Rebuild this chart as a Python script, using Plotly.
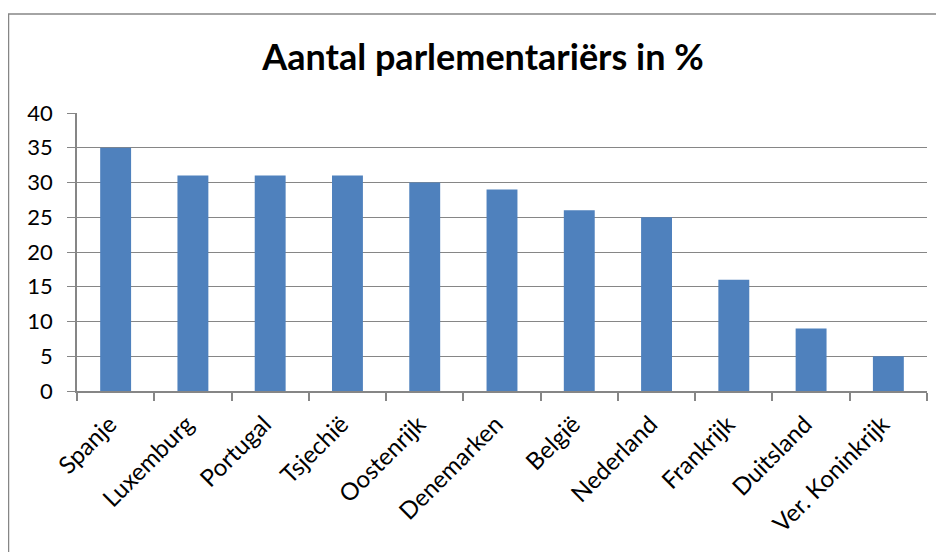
import plotly.graph_objects as go

countries = ["Spanje", "Luxemburg", "Portugal", "Tsjechië", "Oostenrijk", "Denemarken",
             "België", "Nederland", "Frankrijk", "Duitsland", "Ver. Koninkrijk"]
values = [35, 31, 31, 31, 30, 29, 26, 25, 16, 9, 5]
y_ticks = [0, 5, 10, 15, 20, 25, 30, 35, 40]

# the page adds an 8px body margin, so the figure is laid out 8px up/left
OFF = 8
W, H = 944 - OFF, 552 - OFF
L, T = 77 - OFF, 113 - OFF
R = W - (927 - OFF)
B = H - (391 - OFF)
pw, ph = W - L - R, H - T - B

def px_to_paper_x(x):
    return (x - OFF - L) / pw

def px_to_paper_y(y):
    return (H - B - (y - OFF)) / ph

grid = "#868686"
font = "Lato, 'Open Sans', sans-serif"

fig = go.Figure(go.Bar(x=countries, y=values, marker=dict(color="#4F81BD", line=dict(width=0)),
                       width=0.4))

fig.update_layout(
    width=W, height=H,
    margin=dict(l=L, r=R, t=T, b=B, autoexpand=False),
    paper_bgcolor="white", plot_bgcolor="white",
    showlegend=False,
    font=dict(family=font, color="black"),
    title=dict(text="<b>Aantal parlementariërs in %</b>", x=(483 - OFF) / W, xanchor="center",
               y=1 - (57 - OFF) / H, yanchor="middle", yref="container", xref="container",
               font=dict(size=36, family=font, color="black")),
    shapes=[dict(type="rect", xref="paper", yref="paper",
                 x0=px_to_paper_x(8.5), x1=px_to_paper_x(960),
                 y0=px_to_paper_y(580), y1=px_to_paper_y(14),
                 line=dict(color=grid, width=1.5), fillcolor="rgba(0,0,0,0)", layer="below")],
)

fig.update_yaxes(range=[0, 40], tickvals=y_ticks, showgrid=True, gridcolor=grid, gridwidth=1,
                 showline=True, linecolor=grid, linewidth=1.5, ticks="outside", ticklen=8,
                 tickcolor=grid, tickwidth=1, ticklabelstandoff=10, automargin=False,
                 tickfont=dict(size=22, family=font, color="black"), zeroline=False)
fig.update_xaxes(showline=True, linecolor=grid, linewidth=1.5, ticks="outside", ticklen=8,
                 tickcolor=grid, tickwidth=1.5, tickson="boundaries", tickangle=-45,
                 ticklabelstandoff=8, ticklabelshift=-6, showgrid=False, automargin=False,
                 tickfont=dict(size=24, family=font, color="black"))

fig.write_html("out.html")
